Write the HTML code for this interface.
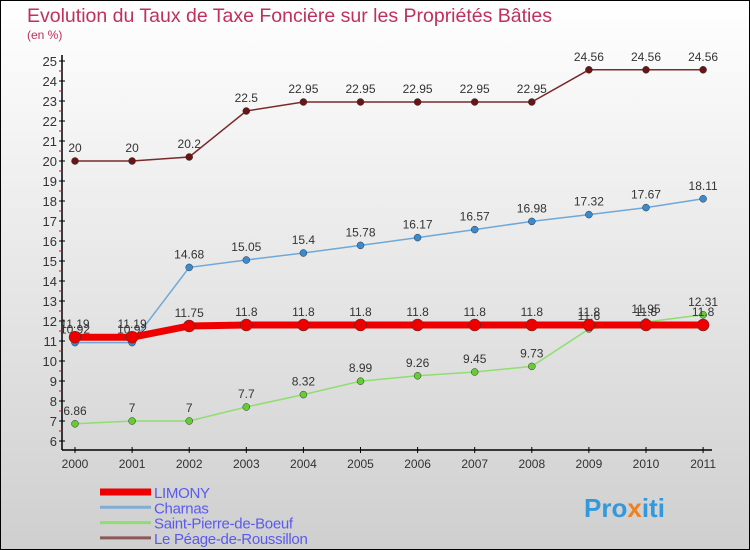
<!DOCTYPE html>
<html><head><meta charset="utf-8"><style>
body{margin:0}
#c{width:750px;height:550px;position:relative;overflow:hidden}
text{font-family:"Liberation Sans",sans-serif}
</style></head><body>
<div id="c">
<svg id="s" width="750" height="550" xmlns="http://www.w3.org/2000/svg">
<defs><linearGradient id="bg" x1="0" y1="0" x2="0" y2="1"><stop offset="0" stop-color="#ffffff"/><stop offset="1" stop-color="#cfcfcf"/></linearGradient></defs>
<rect x="0.5" y="0.5" width="749" height="549" fill="url(#bg)" stroke="#000"/>
<text x="27" y="22" font-size="19.5" fill="#c0305a">Evolution du Taux de Taxe Foncière sur les Propriétés Bâties</text>
<text x="27" y="39" font-size="12" fill="#c0305a">(en %)</text>
<g id="axes"></g><g id="plot"></g><g id="legend"></g>
<text x="584" y="517" font-size="26" font-weight="bold" fill="#3399dd">Pro<tspan fill="#f08020">x</tspan>iti</text>
</svg></div>
<script>
const years=["2000","2001","2002","2003","2004","2005","2006","2007","2008","2009","2010","2011"];
const yTicks=[6,7,8,9,10,11,12,13,14,15,16,17,18,19,20,21,22,23,24,25];
const limony=[11.19,11.19,11.75,11.8,11.8,11.8,11.8,11.8,11.8,11.8,11.8,11.8];
const charnas=[10.92,10.92,14.68,15.05,15.4,15.78,16.17,16.57,16.98,17.32,17.67,18.11];
const stpierre=[6.86,7,7,7.7,8.32,8.99,9.26,9.45,9.73,11.6,11.95,12.31];
const peage=[20,20,20.2,22.5,22.95,22.95,22.95,22.95,22.95,24.56,24.56,24.56];
const NS="http://www.w3.org/2000/svg";
const X=i=>75+i*57.1, Y=v=>441-(v-6)*20;
function mk(p,t,a){const e=document.createElementNS(NS,t);for(const k in a)e.setAttribute(k,a[k]);p.appendChild(e);return e;}
const ax=document.getElementById('axes'),pl=document.getElementById('plot'),lg=document.getElementById('legend');
let e=mk(ax,'line',{x1:62,y1:55,x2:62,y2:450,stroke:'#000','stroke-width':1.5});

e=mk(ax,'line',{x1:62,y1:450,x2:712,y2:450,stroke:'#000','stroke-width':1.5});

yTicks.forEach(v=>{
 mk(ax,'line',{x1:59,y1:Y(v),x2:65,y2:Y(v),stroke:'#000'});
 if(v<25)mk(ax,'line',{x1:59,y1:Y(v+0.5),x2:62,y2:Y(v+0.5),stroke:'#e00'});
 const t=mk(ax,'text',{x:57,y:Y(v)+5,'font-size':13,'text-anchor':'end',fill:'#333'});t.textContent=v;
 
});
years.forEach((y,i)=>{
 mk(ax,'line',{x1:X(i),y1:447,x2:X(i),y2:453,stroke:'#000'});
 const t=mk(ax,'text',{x:X(i),y:468,'font-size':12,'text-anchor':'middle',fill:'#333'});t.textContent=y;
 
});
function series(vals,col,dot,w,r,name,lab){
 const l=mk(pl,'polyline',{points:vals.map((v,i)=>X(i)+','+Y(v)).join(' '),fill:'none',stroke:col,'stroke-width':w});
 
 vals.forEach((v,i)=>{
  const c=mk(pl,'circle',{cx:X(i),cy:Y(v),r:r,fill:dot,stroke:'#333','stroke-width':0.5});
  
  if(lab){const t=mk(pl,'text',{x:X(i),y:Y(v)-9,'font-size':12,'text-anchor':'middle',fill:'#333'});t.textContent=v;
  }
 });
}
series(peage,'#7a2a2a','#6a1515',1.5,3.5,'peage',true);
series(charnas,'#6fa8d8','#3a8ad0',1.5,3.5,'charnas',true);
series(stpierre,'#90dd70','#66cc33',1.5,3.5,'stpierre',true);
series(limony,'#ee0000','#ee0000',7,6,'limony',true);
const lnames=["LIMONY","Charnas","Saint-Pierre-de-Boeuf","Le Péage-de-Roussillon"];
const lcols=["#ee0000","#7fadd5","#90dd70","#8a5a5a"];
lnames.forEach((n,i)=>{
 const y=492+i*15.3;
 mk(lg,'line',{x1:100,y1:y,x2:151,y2:y,stroke:lcols[i],'stroke-width':i==0?7:3});
 const t=mk(lg,'text',{x:154,y:y+6,'font-size':15,'letter-spacing':-0.3,fill:'#5a5af0'});t.textContent=n;
 
});
</script></body></html>
